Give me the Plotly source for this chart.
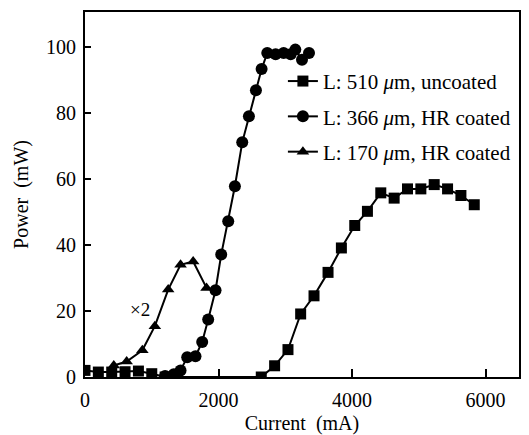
import plotly.graph_objects as go

# 510 um, uncoated (squares)
sq_x = [0, 200, 400, 600, 800, 1000, 1200, 2640, 2840, 3040, 3230, 3430, 3640,
        3840, 4040, 4230, 4430, 4630, 4830, 5030, 5230, 5430, 5630, 5830]
sq_y = [2.0, 1.5, 1.5, 1.6, 1.8, 1.0, 0.0, 0.0, 3.4, 8.3, 19.1, 24.6, 31.7,
        39.1, 45.9, 50.2, 55.8, 54.2, 57.0, 57.0, 58.3, 57.0, 55.0, 52.2]

# 366 um, HR coated (circles)
ci_x = [1200, 1330, 1431, 1531, 1655, 1755, 1845, 1955, 2040, 2145, 2245, 2355,
        2455, 2560, 2645, 2730, 2855, 2975, 3080, 3150, 3250, 3355]
ci_y = [0.3, 0.8, 2.0, 6.0, 6.3, 10.6, 17.4, 26.3, 37.1, 47.2, 57.8, 71.1,
        79.0, 86.9, 93.3, 98.2, 97.8, 98.2, 97.8, 99.2, 96.1, 98.2]

# 170 um, HR coated, x2 (triangles)
tr_x = [431, 624, 859, 1046, 1246, 1431, 1620, 1820]
tr_y = [3.5, 4.7, 8.1, 15.4, 26.5, 34.0, 35.0, 27.0]

names = ["L: 510 <i>\u03bc</i>m, uncoated",
         "L: 366 <i>\u03bc</i>m, HR coated",
         "L: 170 <i>\u03bc</i>m, HR coated"]

FONT = "Times New Roman, Liberation Serif, serif"

fig = go.Figure()
series = [(sq_x, sq_y, "square", 11), (ci_x, ci_y, "circle", 12), (tr_x, tr_y, "triangle-up", 11)]
for i, ((xs, ys, sym, sz), nm) in enumerate(zip(series, names)):
    fig.add_trace(go.Scatter(
        x=xs, y=ys, mode="lines+markers", name=nm, legendgroup=f"g{i}",
        line=dict(color="black", width=2),
        marker=dict(symbol=sym, size=sz, color="black"),
    ))

fig.add_annotation(x=820, y=20.5, text="\u00d72", showarrow=False,
                   font=dict(family=FONT, size=19, color="black"))

# page body has an 8px default margin, so the figure is offset by 8px
fig.update_layout(
    width=521, height=427,
    margin=dict(l=77, r=10, t=4, b=58),
    paper_bgcolor="white", plot_bgcolor="white",
    font=dict(family=FONT, size=20, color="black"),
    showlegend=True,
    legend=dict(x=0.456, y=0.866, xanchor="left", yanchor="top",
                bgcolor="rgba(0,0,0,0)", tracegroupgap=5,
                font=dict(family=FONT, size=21, color="black"),
                itemwidth=30),
)
fig.update_xaxes(
    range=[0, 6500], tickvals=[0, 2000, 4000, 6000],
    ticks="inside", ticklen=8, tickwidth=1.5, tickcolor="black",
    showline=True, linewidth=2, linecolor="black", mirror=True,
    showgrid=False, zeroline=False, ticklabelstandoff=4, automargin=False,
    tickfont=dict(family=FONT, size=20),
    title=dict(text="Current\u00a0 (mA)", standoff=7,
               font=dict(family=FONT, size=20)),
)
fig.update_yaxes(
    range=[0, 110.6], tickvals=[0, 20, 40, 60, 80, 100],
    ticks="inside", ticklen=6, tickwidth=1.5, tickcolor="black",
    showline=True, linewidth=2, linecolor="black", mirror=True,
    showgrid=False, zeroline=False, ticklabelstandoff=3, automargin=False,
    tickfont=dict(family=FONT, size=20),
    title=dict(text="Power\u00a0 (mW)", standoff=12,
               font=dict(family=FONT, size=20)),
)

fig.write_html("out.html")
